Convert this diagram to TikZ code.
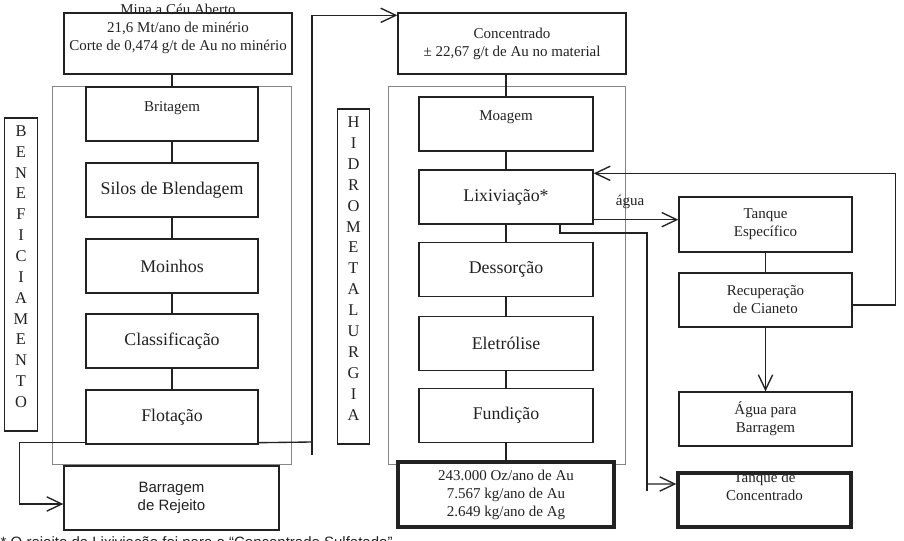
\documentclass[tikz,border=0pt]{standalone}
\usepackage{fontspec}
\setmainfont{Liberation Serif}
\newfontfamily\arialfont{Liberation Sans}
\usetikzlibrary{arrows.meta}
\definecolor{ink}{HTML}{222222}
\definecolor{framegray}{HTML}{858585}
\newcommand{\bigtxt}{\fontsize{12.5}{15}\selectfont}
\newcommand{\smalltxt}{\fontsize{10.5}{12.6}\selectfont}
\newcommand{\lettertxt}{\fontsize{11.5}{13}\selectfont}

\begin{document}
\begin{tikzpicture}[x=0.7pt, y=-0.7pt, line width=0.95pt, color=ink]
  \tikzset{
    stage/.style={draw, fill=white, inner sep=0pt, align=center,
      minimum width=120.4pt, minimum height=37.8pt, font=\bigtxt},
    info/.style={stage, font=\smalltxt},
    output/.style={info, line width=2.4pt},
    frame/.style={draw=framegray, line width=0.5pt},
    vbox/.style={draw, fill=white, minimum width=22.8pt},
    vlabel/.style={anchor=base, inner sep=0pt, font=\lettertxt},
    flow/.style={-{Straight Barb[length=10.5pt,width=10pt]}}
  }
  \useasboundingbox (0,0) rectangle (904,541);

  % Beneficiamento
  \draw[frame] (52,86) rectangle (291,464);
  \node[info, minimum width=159.6pt, minimum height=42.7pt,
    label={[font=\smalltxt, align=center, yshift=10.5pt]center:{Mina a Céu Aberto\\21,6 Mt/ano de minério\\Corte de 0,474 g/t de Au no minério}}]
    (mina) at (178,43.5) {};
  \node[info, label={[font=\smalltxt, yshift=4.2pt]center:Britagem}] (brit) at (172,114) {};
  \node[stage] (silos) at (172,190) {Silos de Blendagem};
  \node[stage] (moin) at (172,266) {Moinhos};
  \node[stage] (class) at (172,341) {Classificação};
  \node[stage] (flot) at (172,417) {Flotação};
  \draw (mina.south -| brit.north) -- (brit.north);
  \draw (brit) -- (silos);
  \draw (silos) -- (moin);
  \draw (moin) -- (class);
  \draw (class) -- (flot);

  \node[vbox, minimum height=219.1pt] (benef) at (21,274.5) {};
  \foreach \l [count=\i from 0] in {B,E,N,E,F,I,C,I,A,M,E,N,T,O}
    \node[vlabel] (b\i) at (21,{131+20.85*\i+5.4}) {\l};

  \node[info, font=\arialfont\smalltxt, minimum width=150.5pt, minimum height=44.8pt]
    (barr) at (171.5,498) {Barragem\\de Rejeito};
  \draw[flow] ([yshift=1.4pt]flot.south west) -- ++(-66,0) |- ([yshift=-4.2pt]barr.west);

  % Hidrometalurgia
  \draw[frame] (388,86) rectangle (625,464);
  \node[info, minimum width=159.6pt, minimum height=42.7pt] (conc) at (512,43.5)
    {Concentrado\\± 22,67 g/t de Au no material};
  \draw ([yshift=1.4pt]flot.south east) -- (312,442);
  \draw[flow] (312,455) |- ([yshift=-2.1pt]conc.north west);
  \node[info, minimum width=121.8pt, label={[font=\smalltxt, yshift=4.9pt]center:Moagem}]
    (moag) at (506,124) {};
  \node[stage, minimum width=121.8pt] (lix) at (506,197) {Lixiviação*};
  \node[stage, minimum width=121.8pt] (dess) at (506,269.5) {Dessorção};
  \node[stage, minimum width=121.8pt] (elet) at (506,343.5) {Eletrólise};
  \node[stage, minimum width=121.8pt] (fund) at (506,415.5) {Fundição};
  \node[output, minimum width=151.2pt, minimum height=45.5pt] (prod) at (506,494.5)
    {243.000 Oz/ano de Au\\7.567 kg/ano de Au\\2.649 kg/ano de Ag};
  \draw (conc.south -| moag.north) -- (moag.north);
  \draw (moag) -- (lix);
  \draw (lix) -- (dess);
  \draw (dess) -- (elet);
  \draw (elet) -- (fund);
  \draw (fund) -- (prod);

  \node[vbox, minimum height=234.5pt] (hidro) at (353.5,276.5) {};
  \foreach \l [count=\i from 0] in {H,I,D,R,O,M,E,T,A,L,U,R,G,I,A}
    \node[vlabel] (h\i) at (353.5,{122+20.93*\i+5.4}) {\l};

  % Circuito de cianeto
  \node[info, minimum width=121.1pt, minimum height=38.5pt] (tqesp) at (765.5,224.5) {Tanque\\Específico};
  \node[info, minimum width=121.1pt] (recup) at (765.5,300) {Recuperação\\de Cianeto};
  \node[info, minimum width=121.1pt] (aguab) at (765.5,419) {Água para\\Barragem};
  \node[output, minimum width=121.1pt,
    label={[font=\smalltxt, align=center, yshift=9.8pt]center:{Tanque de\\Concentrado}}]
    (tqconc) at (764.5,500) {};
  \draw (tqesp) -- (recup);
  \draw[flow] (recup) -- (aguab);
  \draw[flow] ([yshift=-3.5pt]recup.east) -- ++(43,0) |- ([yshift=-2.8pt]lix.north east);
  \coordinate (lixout) at ([yshift=3.5pt]lix.south east);
  \draw[flow] (lixout) -- (lixout -| tqesp.west);
  \node[font=\smalltxt] (agua) at (630,202) {água};
  \draw ([xshift=37.8pt]lix.south) |- (647,233) -- (647,491);
  \draw[flow] (647,484) -- ([yshift=11.2pt]tqconc.west);

  % Nota (cortada na borda, como no original)
  \node[font=\arialfont\smalltxt, anchor=base west, inner sep=0pt] (nota) at (0,547)
    {* O rejeito da Lixiviação foi para o “Concentrado Sulfetado”};
\end{tikzpicture}
\end{document}
